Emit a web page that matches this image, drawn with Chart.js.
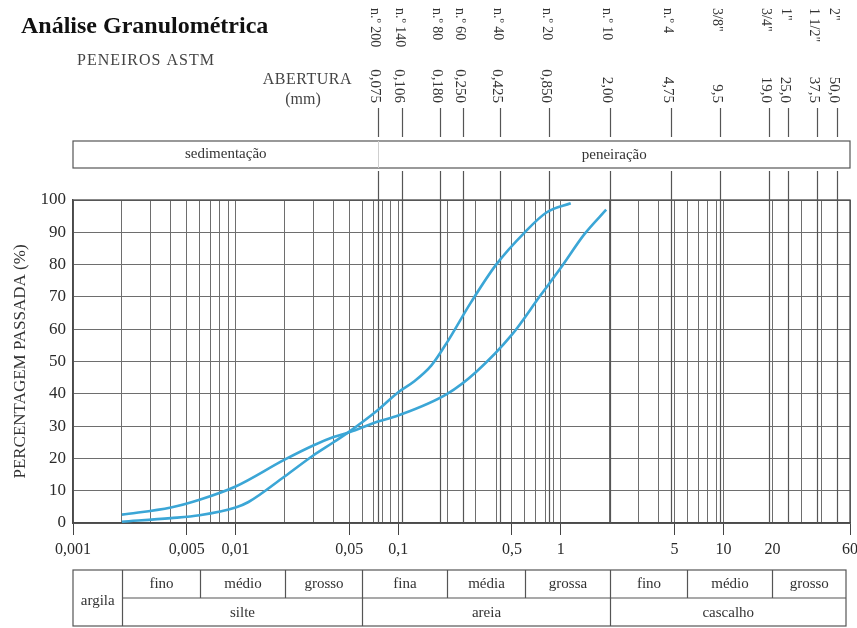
<!DOCTYPE html>
<html>
<head>
<meta charset="utf-8">
<script src="https://cdn.jsdelivr.net/npm/chart.js@4.4.0/dist/chart.umd.min.js"></script>
<style>
  html, body { margin: 0; background: #fff; }
</style>
</head>
<body>
<canvas id="chartGranulo" width="857" height="628"></canvas>
<script>
// curva 1 (mais suave) e curva 2 (mais inclinada): diametro (mm) x % passada
const sizes1 = [0.002, 0.004, 0.006, 0.01, 0.02, 0.03, 0.04, 0.05, 0.075, 0.1, 0.2, 0.3, 0.5, 0.75, 1.0, 1.4, 1.9];
const pass1  = [2.6, 4.8, 7.2, 11.3, 19.6, 24, 26.6, 28.1, 31.4, 33.3, 40, 46.7, 58.3, 70.5, 79, 89.5, 97];
const sizes2 = [0.002, 0.004, 0.006, 0.01, 0.012, 0.02, 0.03, 0.04, 0.05, 0.075, 0.1, 0.125, 0.16, 0.2, 0.28, 0.4, 0.6, 0.82, 1.15];
const pass2  = [0.4, 1.5, 2.4, 4.8, 6.5, 14.4, 20.9, 25, 28.3, 35, 40.5, 43.8, 48.8, 56, 68.3, 80, 90, 96.2, 99];

// peneiros ASTM
const sieveMM    = [0.075, 0.106, 0.18, 0.25, 0.425, 0.85, 2, 4.75, 9.5, 19, 25, 37.5, 50];
const sieveNames = ['n.º 200', 'n.º 140', 'n.º 80', 'n.º 60', 'n.º 40', 'n.º 20', 'n.º 10', 'n.º 4', '3/8"', '3/4"', '1"', '1 1/2"', '2"'];
const sieveOpen  = ['0,075', '0,106', '0,180', '0,250', '0,425', '0,850', '2,00', '4,75', '9,5', '19,0', '25,0', '37,5', '50,0'];

// eixo x
const xMin = 0.001, xMax = 60;
const labelVals = [0.001, 0.005, 0.01, 0.05, 0.1, 0.5, 1, 5, 10, 20, 60];
const markVals  = [0.001, 0.005, 0.01, 0.05, 0.1, 0.5, 1, 5, 10, 60];

// escala granulometrica (tabela de baixo)
const row1Bounds = [0.002, 0.006, 0.02, 0.06, 0.2, 0.6, 2, 6, 20, 60];
const row1Labels = ['fino', 'médio', 'grosso', 'fina', 'média', 'grossa', 'fino', 'médio', 'grosso'];
const row2Bounds = [0.002, 0.06, 2, 60];
const row2Labels = ['silte', 'areia', 'cascalho'];

const SERIF = '"Liberation Serif", "DejaVu Serif", serif';
const INK = '#2a2a2a';
const LINE = '#6e6e6e';
const CURVE = '#3ba6d6';

// todas as linhas de grade log (1..9 por decada)
const gridVals = [];
for (let k = -3; k <= 1; k++) {
  for (let m = 1; m <= 9; m++) {
    const v = parseFloat(m + 'e' + k);
    if (v >= xMin && v <= xMax) gridVals.push(v);
  }
}

function seg(ctx, x1, y1, x2, y2) {
  ctx.beginPath(); ctx.moveTo(x1, y1); ctx.lineTo(x2, y2); ctx.stroke();
}

const decor = {
  id: 'decor',
  beforeDatasetsDraw(chart) {
    const { ctx, chartArea: a, scales: { x } } = chart;
    const px = v => Math.round(x.getPixelForValue(v)) + 0.5;
    ctx.save();

    // moldura do grafico
    ctx.strokeStyle = '#4a4a4a'; ctx.lineWidth = 1.3;
    ctx.strokeRect(a.left, a.top, a.right - a.left, a.bottom - a.top);

    // linhas dos peneiros
    ctx.strokeStyle = '#555'; ctx.lineWidth = 1.2;
    sieveMM.forEach(v => {
      seg(ctx, px(v), 108, px(v), 137);
      seg(ctx, px(v), 171, px(v), a.bottom);
    });

    // titulos
    ctx.fillStyle = '#111';
    ctx.font = 'bold 24px ' + SERIF;
    ctx.textAlign = 'left'; ctx.textBaseline = 'alphabetic';
    ctx.fillText('Análise Granulométrica', 21, 33);
    ctx.fillStyle = '#444';
    ctx.font = '16px ' + SERIF;
    ctx.letterSpacing = '1px';
    ctx.fillText('PENEIROS ASTM', 77, 65);
    ctx.letterSpacing = '0.5px';
    ctx.textAlign = 'right';
    ctx.fillText('ABERTURA', 352, 84);
    ctx.letterSpacing = '0px';
    ctx.textAlign = 'center';
    ctx.fillText('(mm)', 303, 104);

    // rotulos rodados dos peneiros
    ctx.fillStyle = '#333';
    ctx.textBaseline = 'middle';
    sieveMM.forEach((v, i) => {
      ctx.save();
      ctx.translate(x.getPixelForValue(v) - 3, 0);
      ctx.rotate(Math.PI / 2);
      ctx.font = '14px ' + SERIF;
      ctx.textAlign = 'left';
      ctx.fillText(sieveNames[i], 8, 0);
      ctx.font = '15px ' + SERIF;
      ctx.textAlign = 'right';
      ctx.fillText(sieveOpen[i], 103, 0);
      ctx.restore();
    });

    // faixa sedimentacao / peneiracao
    const x075 = px(0.075);
    ctx.strokeStyle = '#555'; ctx.lineWidth = 1.2;
    ctx.strokeRect(a.left, 141, a.right - a.left, 27);
    ctx.strokeStyle = '#cfcfcf'; ctx.lineWidth = 1;
    seg(ctx, x075, 141, x075, 168);
    ctx.fillStyle = '#333';
    ctx.font = '15px ' + SERIF;
    ctx.textAlign = 'center'; ctx.textBaseline = 'middle';
    ctx.fillText('sedimentação', (a.left + x075) / 2, 154);
    ctx.fillText('peneiração', (x075 + a.right) / 2, 155);

    // tabela de classificacao
    const t0 = 570, t1 = 598, t2 = 626;
    const tRight = a.right - 4;
    ctx.strokeStyle = '#555'; ctx.lineWidth = 1.2;
    ctx.strokeRect(a.left, t0, tRight - a.left, t2 - t0);
    seg(ctx, px(0.002), t1, tRight, t1);
    row1Bounds.slice(0, -1).forEach(v => seg(ctx, px(v), t0, px(v), t1));
    row2Bounds.slice(0, -1).forEach(v => seg(ctx, px(v), t1, px(v), t2));
    ctx.fillStyle = '#333';
    ctx.font = '15px ' + SERIF;
    ctx.fillText('argila', (a.left + px(0.002)) / 2, 601);
    row1Labels.forEach((s, i) => {
      ctx.fillText(s, (px(row1Bounds[i]) + Math.min(px(row1Bounds[i + 1]), tRight)) / 2, 584);
    });
    row2Labels.forEach((s, i) => {
      ctx.fillText(s, (px(row2Bounds[i]) + Math.min(px(row2Bounds[i + 1]), tRight)) / 2, 613);
    });

    ctx.restore();
  }
};

const ctx = document.getElementById('chartGranulo').getContext('2d');
new Chart(ctx, {
  type: 'line',
  data: {
    datasets: [
      {
        data: sizes1.map((s, i) => ({ x: s, y: pass1[i] })),
        borderColor: CURVE, borderWidth: 2.6, pointRadius: 0,
        cubicInterpolationMode: 'monotone', fill: false
      },
      {
        data: sizes2.map((s, i) => ({ x: s, y: pass2[i] })),
        borderColor: CURVE, borderWidth: 2.6, pointRadius: 0,
        cubicInterpolationMode: 'monotone', fill: false
      }
    ]
  },
  options: {
    responsive: false,
    animation: false,
    layout: { padding: { left: 0, right: 7, top: 200, bottom: 65 } },
    plugins: { legend: { display: false }, tooltip: { enabled: false } },
    scales: {
      x: {
        type: 'logarithmic',
        min: xMin, max: xMax,
        afterBuildTicks: s => { s.ticks = gridVals.map(v => ({ value: v })); },
        afterFit: s => { s.height = 40; s.paddingLeft = 0; s.paddingRight = 0; },
        grid: {
          color: LINE, lineWidth: 1, tickLength: 12,
          tickColor: c => (c.tick && markVals.includes(c.tick.value)) ? '#444' : 'rgba(0,0,0,0)'
        },
        border: { color: '#4a4a4a', width: 1.3 },
        ticks: {
          autoSkip: false, maxRotation: 0, minRotation: 0, padding: 5,
          color: INK, font: { family: SERIF, size: 16 },
          callback: v => labelVals.includes(v) ? String(v).replace('.', ',') : ''
        }
      },
      y: {
        min: 0, max: 100,
        afterFit: s => { s.width = 73; },
        grid: { color: LINE, lineWidth: 1, drawTicks: false },
        border: { color: '#4a4a4a', width: 1.3 },
        ticks: {
          stepSize: 10, padding: 7,
          color: INK, font: { family: SERIF, size: 17 }
        },
        title: {
          display: true, text: 'PERCENTAGEM PASSADA (%)',
          color: '#333', font: { family: SERIF, size: 17 },
          padding: { top: 10, bottom: 0 }
        }
      }
    }
  },
  plugins: [decor]
});
</script>
</body>
</html>
